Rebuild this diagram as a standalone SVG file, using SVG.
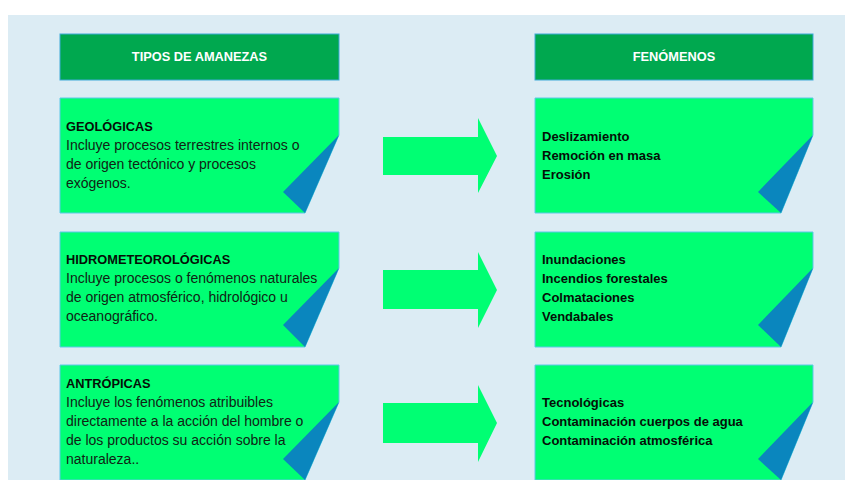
<svg xmlns="http://www.w3.org/2000/svg" width="845" height="480" viewBox="0 0 845 480">
<style>
.hdr{fill:#00A84F;stroke:#3FA9D8;stroke-width:1}
.hdrt{font-family:"Liberation Sans",Arial,sans-serif;font-size:12.8px;font-weight:bold;fill:#ffffff;text-anchor:middle}
.box{fill:#00FF73;stroke:#5CC8E8;stroke-width:1}
.fold{fill:#0A86BE}
.t{font-family:"Liberation Sans",Arial,sans-serif;font-size:14px;fill:#102414}
.b{font-weight:bold;fill:#050f07;font-size:12.8px}
.r{font-family:"Liberation Sans",Arial,sans-serif;font-size:13px;font-weight:bold;fill:#050f07}
.arr{fill:#00FF73}
</style>
<rect x="0" y="0" width="845" height="480" fill="#ffffff"/>
<rect x="8" y="15" width="837" height="465" fill="#DCECF4"/>

<g id="hdr-tipos">
<rect class="hdr" x="60" y="34" width="279" height="46"/>
<text class="hdrt" x="199.5" y="61">TIPOS DE AMANEZAS</text>
</g>
<g id="hdr-fenomenos">
<rect class="hdr" x="535" y="34" width="278" height="46"/>
<text class="hdrt" x="674" y="61">FENÓMENOS</text>
</g>

<g id="geologicas">
<path class="box" d="M60,98 H339 V135 L305,213 H60 Z"/>
<path class="fold" d="M339,135 L283,192 L305,213 Z"/>
<text class="t"><tspan class="b" x="66" y="131">GEOLÓGICAS</tspan><tspan x="66" y="150">Incluye procesos terrestres internos o</tspan><tspan x="66" y="169">de origen tectónico y procesos</tspan><tspan x="66" y="188">exógenos.</tspan></text>
</g>
<g id="hidrometeorologicas">
<path class="box" d="M60,232 H339 V268 L305,347 H60 Z"/>
<path class="fold" d="M339,268 L283,325 L305,347 Z"/>
<text class="t"><tspan class="b" x="66" y="264">HIDROMETEOROLÓGICAS</tspan><tspan x="66" y="283">Incluye procesos o fenómenos naturales</tspan><tspan x="66" y="302">de origen atmosférico, hidrológico u</tspan><tspan x="66" y="321">oceanográfico.</tspan></text>
</g>
<g id="antropicas">
<path class="box" d="M60,365 H339 V402 L305,480 H60 Z"/>
<path class="fold" d="M339,402 L283,459 L305,480 Z"/>
<text class="t"><tspan class="b" x="66" y="388">ANTRÓPICAS</tspan><tspan x="66" y="407">Incluye los fenómenos atribuibles</tspan><tspan x="66" y="426">directamente a la acción del hombre o</tspan><tspan x="66" y="445">de los productos su acción sobre la</tspan><tspan x="66" y="464">naturaleza..</tspan></text>
</g>

<g id="fen-geologicas">
<path class="box" d="M535,98 H813 V135 L781,213 H535 Z"/>
<path class="fold" d="M813,135 L758,192 L781,213 Z"/>
<text class="r"><tspan x="542" y="141">Deslizamiento</tspan><tspan x="542" y="160">Remoción en masa</tspan><tspan x="542" y="179">Erosión</tspan></text>
</g>
<g id="fen-hidro">
<path class="box" d="M535,232 H813 V268 L781,347 H535 Z"/>
<path class="fold" d="M813,268 L758,325 L781,347 Z"/>
<text class="r"><tspan x="542" y="264">Inundaciones</tspan><tspan x="542" y="283">Incendios forestales</tspan><tspan x="542" y="302">Colmataciones</tspan><tspan x="542" y="321">Vendabales</tspan></text>
</g>
<g id="fen-antropicas">
<path class="box" d="M535,365 H813 V402 L781,480 H535 Z"/>
<path class="fold" d="M813,402 L758,459 L781,480 Z"/>
<text class="r"><tspan x="542" y="407">Tecnológicas</tspan><tspan x="542" y="426">Contaminación cuerpos de agua</tspan><tspan x="542" y="445">Contaminación atmosférica</tspan></text>
</g>

<g id="connectors">
<path class="arr" d="M383,137 H478 V118 L497,156 L478,193 V175 H383 Z"/>
<path class="arr" d="M383,270 H478 V252 L497,290 L478,328 V309 H383 Z"/>
<path class="arr" d="M383,403 H478 V385 L497,423 L478,462 V443 H383 Z"/>
</g>
</svg>
